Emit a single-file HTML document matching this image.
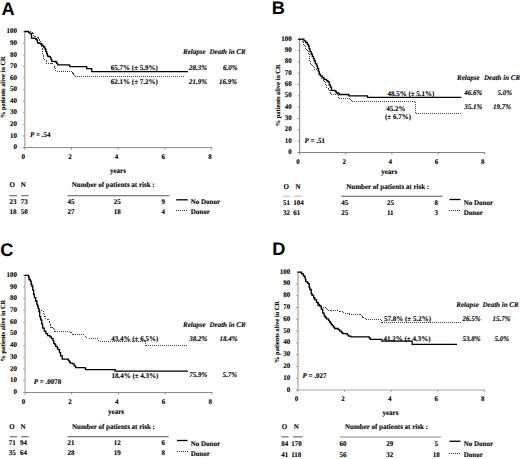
<!DOCTYPE html>
<html><head><meta charset="utf-8"><style>
html,body{margin:0;padding:0;background:#fff;width:520px;height:459px;overflow:hidden;}
svg{display:block;}
</style></head><body>
<svg width="520" height="459" viewBox="0 0 520 459">
<rect width="520" height="459" fill="#fff"/>
<g font-family="Liberation Serif" font-weight="bold" fill="#000" text-rendering="geometricPrecision" stroke="#000" stroke-width="0.1">
<text transform="translate(1.50,14.80) scale(1.0,1)" font-size="18.2" font-family="Liberation Sans" stroke-width="0">A</text>
<line x1="24.80" y1="31.30" x2="24.80" y2="147.60" stroke="#a0a0a0" stroke-width="1.2"/>
<line x1="22.80" y1="147.60" x2="212.10" y2="147.60" stroke="#888" stroke-width="1"/>
<line x1="22.80" y1="147.60" x2="24.80" y2="147.60" stroke="#a0a0a0" stroke-width="1"/>
<text transform="translate(17.00,149.20) scale(0.96,1)" text-anchor="end" font-size="7.3">0</text>
<line x1="22.80" y1="136.02" x2="24.80" y2="136.02" stroke="#a0a0a0" stroke-width="1"/>
<text transform="translate(17.00,137.62) scale(0.96,1)" text-anchor="end" font-size="7.3">10</text>
<line x1="22.80" y1="124.44" x2="24.80" y2="124.44" stroke="#a0a0a0" stroke-width="1"/>
<text transform="translate(17.00,126.04) scale(0.96,1)" text-anchor="end" font-size="7.3">20</text>
<line x1="22.80" y1="112.86" x2="24.80" y2="112.86" stroke="#a0a0a0" stroke-width="1"/>
<text transform="translate(17.00,114.46) scale(0.96,1)" text-anchor="end" font-size="7.3">30</text>
<line x1="22.80" y1="101.28" x2="24.80" y2="101.28" stroke="#a0a0a0" stroke-width="1"/>
<text transform="translate(17.00,102.88) scale(0.96,1)" text-anchor="end" font-size="7.3">40</text>
<line x1="22.80" y1="89.70" x2="24.80" y2="89.70" stroke="#a0a0a0" stroke-width="1"/>
<text transform="translate(17.00,91.30) scale(0.96,1)" text-anchor="end" font-size="7.3">50</text>
<line x1="22.80" y1="78.12" x2="24.80" y2="78.12" stroke="#a0a0a0" stroke-width="1"/>
<text transform="translate(17.00,79.72) scale(0.96,1)" text-anchor="end" font-size="7.3">60</text>
<line x1="22.80" y1="66.54" x2="24.80" y2="66.54" stroke="#a0a0a0" stroke-width="1"/>
<text transform="translate(17.00,68.14) scale(0.96,1)" text-anchor="end" font-size="7.3">70</text>
<line x1="22.80" y1="54.96" x2="24.80" y2="54.96" stroke="#a0a0a0" stroke-width="1"/>
<text transform="translate(17.00,56.56) scale(0.96,1)" text-anchor="end" font-size="7.3">80</text>
<line x1="22.80" y1="43.38" x2="24.80" y2="43.38" stroke="#a0a0a0" stroke-width="1"/>
<text transform="translate(17.00,44.98) scale(0.96,1)" text-anchor="end" font-size="7.3">90</text>
<line x1="22.80" y1="31.80" x2="24.80" y2="31.80" stroke="#a0a0a0" stroke-width="1"/>
<text transform="translate(17.00,33.40) scale(0.96,1)" text-anchor="end" font-size="7.3">100</text>
<line x1="24.80" y1="147.60" x2="24.80" y2="149.60" stroke="#888" stroke-width="1"/>
<text transform="translate(23.20,159.30) scale(0.96,1)" text-anchor="middle" font-size="7.3">0</text>
<line x1="71.50" y1="147.60" x2="71.50" y2="149.60" stroke="#888" stroke-width="1"/>
<text transform="translate(69.90,159.30) scale(0.96,1)" text-anchor="middle" font-size="7.3">2</text>
<line x1="118.20" y1="147.60" x2="118.20" y2="149.60" stroke="#888" stroke-width="1"/>
<text transform="translate(116.60,159.30) scale(0.96,1)" text-anchor="middle" font-size="7.3">4</text>
<line x1="164.90" y1="147.60" x2="164.90" y2="149.60" stroke="#888" stroke-width="1"/>
<text transform="translate(163.30,159.30) scale(0.96,1)" text-anchor="middle" font-size="7.3">6</text>
<line x1="211.60" y1="147.60" x2="211.60" y2="149.60" stroke="#888" stroke-width="1"/>
<text transform="translate(210.00,159.30) scale(0.96,1)" text-anchor="middle" font-size="7.3">8</text>
<text x="0" y="0" text-anchor="middle" font-size="6.4" transform="translate(4.70,87.20) rotate(-90)">% patients alive in CR</text>
<text transform="translate(110.00,173.30) scale(0.96,1)" font-size="7.3">years</text>
<text transform="translate(9.50,187.30) scale(0.96,1)" font-size="7.3">O</text>
<text transform="translate(20.75,187.30) scale(0.96,1)" font-size="7.3">N</text>
<text transform="translate(71.75,187.30) scale(0.96,1)" font-size="7.3">Number of patients at risk :</text>
<line x1="9.50" y1="195.75" x2="17.00" y2="195.75" stroke="#555" stroke-width="1"/>
<line x1="21.25" y1="195.75" x2="28.75" y2="195.75" stroke="#555" stroke-width="1"/>
<line x1="67.50" y1="195.75" x2="169.25" y2="195.75" stroke="#555" stroke-width="1"/>
<text transform="translate(9.50,204.30) scale(0.96,1)" font-size="7.3">23</text>
<text transform="translate(20.75,204.30) scale(0.96,1)" font-size="7.3">73</text>
<text transform="translate(67.50,204.30) scale(0.96,1)" font-size="7.3">45</text>
<text transform="translate(113.75,204.30) scale(0.96,1)" font-size="7.3">25</text>
<text transform="translate(163.25,204.30) scale(0.96,1)" text-anchor="middle" font-size="7.3">9</text>
<text transform="translate(9.50,214.30) scale(0.96,1)" font-size="7.3">18</text>
<text transform="translate(20.75,214.30) scale(0.96,1)" font-size="7.3">50</text>
<text transform="translate(67.50,214.30) scale(0.96,1)" font-size="7.3">27</text>
<text transform="translate(113.75,214.30) scale(0.96,1)" font-size="7.3">18</text>
<text transform="translate(163.25,214.30) scale(0.96,1)" text-anchor="middle" font-size="7.3">4</text>
<line x1="176.25" y1="199.80" x2="187.75" y2="199.80" stroke="#000" stroke-width="1.3"/>
<text transform="translate(190.75,204.30) scale(0.96,1)" font-size="7.3">No Donor</text>
<line x1="176.00" y1="210.00" x2="188.00" y2="210.00" stroke="#333" stroke-width="1" stroke-dasharray="1 1" shape-rendering="crispEdges"/>
<text transform="translate(190.75,214.30) scale(0.96,1)" font-size="7.3">Donor</text>
<text transform="translate(183.00,54.30) scale(0.96,1)" font-style="italic" font-size="7.3">Relapse</text>
<text transform="translate(209.50,54.30) scale(0.96,1)" font-style="italic" font-size="7.3">Death in CR</text>
<text transform="translate(189.00,69.60) scale(0.96,1)" font-style="italic" font-size="7.3">28.3%</text>
<text transform="translate(223.00,69.60) scale(0.96,1)" font-style="italic" font-size="7.3">6.0%</text>
<text transform="translate(189.00,84.10) scale(0.96,1)" font-style="italic" font-size="7.3">21.9%</text>
<text transform="translate(219.00,84.10) scale(0.96,1)" font-style="italic" font-size="7.3">16.9%</text>
<text transform="translate(110.80,69.80) scale(0.96,1)" font-size="7.3">65.7% (± 5.9%)</text>
<text transform="translate(110.80,84.20) scale(0.96,1)" font-size="7.3">62.1% (± 7.2%)</text>
<text transform="translate(30.00,137.10) scale(0.96,1)" font-size="7.3"><tspan font-style="italic">P</tspan> = .54</text>
<path d="M24.30,31.50H30.70V31.50H32.10V32.00H32.70V33.20H33.00V35.50H33.50V36.10H35.80V36.70H37.00V37.80H38.20V39.00H39.00V40.10H39.90V41.80H40.50V44.20H41.00V45.90H41.90V47.60H42.20V49.90H42.50V52.40H42.50V54.80H43.00V56.70H43.70V58.40H44.90V60.10H46.60V61.50H46.80V63.40H51.10V63.70H52.60V64.40H53.30V65.30H54.20V66.80H54.70V68.20H55.90V70.10H56.40V71.10H70.90V71.10H71.70V72.10H72.80V73.20H73.60V74.40H74.40V76.60H185.20" fill="none" stroke="#444" stroke-width="1" stroke-dasharray="1 1" shape-rendering="crispEdges"/>
<path d="M24.30,31.50H27.80V31.50H28.60V32.30H29.50V33.20H30.70V33.50H31.20V34.90H31.50V38.10H33.50V38.40H35.60V39.00H36.40V39.80H37.30V41.30H37.60V43.00H39.30V43.30H41.30V43.90H41.90V45.30H43.10V46.50H44.20V47.30H44.90V49.00H45.80V51.40H46.60V53.40H47.30V55.80H48.20V56.50H49.70V56.70H50.40V57.90H51.10V59.60H51.80V61.30H54.50V61.50H55.90V62.00H56.60V63.40H57.60V64.90H68.60V65.20H69.80V66.70H85.50V66.70H86.70V68.60H90.90V68.60H91.70V71.60H188.00" fill="none" stroke="#000" stroke-width="1.3"/>
<text transform="translate(271.80,14.30) scale(1.0,1)" font-size="18.2" font-family="Liberation Sans" stroke-width="0">B</text>
<line x1="299.60" y1="38.70" x2="299.60" y2="152.50" stroke="#909090" stroke-width="1.2"/>
<line x1="297.60" y1="152.50" x2="484.82" y2="152.50" stroke="#808080" stroke-width="1"/>
<line x1="297.60" y1="152.50" x2="299.60" y2="152.50" stroke="#909090" stroke-width="1"/>
<text transform="translate(291.80,154.10) scale(0.96,1)" text-anchor="end" font-size="7.3">0</text>
<line x1="297.60" y1="141.17" x2="299.60" y2="141.17" stroke="#909090" stroke-width="1"/>
<text transform="translate(291.80,142.77) scale(0.96,1)" text-anchor="end" font-size="7.3">10</text>
<line x1="297.60" y1="129.84" x2="299.60" y2="129.84" stroke="#909090" stroke-width="1"/>
<text transform="translate(291.80,131.44) scale(0.96,1)" text-anchor="end" font-size="7.3">20</text>
<line x1="297.60" y1="118.51" x2="299.60" y2="118.51" stroke="#909090" stroke-width="1"/>
<text transform="translate(291.80,120.11) scale(0.96,1)" text-anchor="end" font-size="7.3">30</text>
<line x1="297.60" y1="107.18" x2="299.60" y2="107.18" stroke="#909090" stroke-width="1"/>
<text transform="translate(291.80,108.78) scale(0.96,1)" text-anchor="end" font-size="7.3">40</text>
<line x1="297.60" y1="95.85" x2="299.60" y2="95.85" stroke="#909090" stroke-width="1"/>
<text transform="translate(291.80,97.45) scale(0.96,1)" text-anchor="end" font-size="7.3">50</text>
<line x1="297.60" y1="84.52" x2="299.60" y2="84.52" stroke="#909090" stroke-width="1"/>
<text transform="translate(291.80,86.12) scale(0.96,1)" text-anchor="end" font-size="7.3">60</text>
<line x1="297.60" y1="73.19" x2="299.60" y2="73.19" stroke="#909090" stroke-width="1"/>
<text transform="translate(291.80,74.79) scale(0.96,1)" text-anchor="end" font-size="7.3">70</text>
<line x1="297.60" y1="61.86" x2="299.60" y2="61.86" stroke="#909090" stroke-width="1"/>
<text transform="translate(291.80,63.46) scale(0.96,1)" text-anchor="end" font-size="7.3">80</text>
<line x1="297.60" y1="50.53" x2="299.60" y2="50.53" stroke="#909090" stroke-width="1"/>
<text transform="translate(291.80,52.13) scale(0.96,1)" text-anchor="end" font-size="7.3">90</text>
<line x1="297.60" y1="39.20" x2="299.60" y2="39.20" stroke="#909090" stroke-width="1"/>
<text transform="translate(291.80,40.80) scale(0.96,1)" text-anchor="end" font-size="7.3">100</text>
<line x1="299.60" y1="152.50" x2="299.60" y2="154.50" stroke="#808080" stroke-width="1"/>
<text transform="translate(298.00,164.30) scale(0.96,1)" text-anchor="middle" font-size="7.3">0</text>
<line x1="345.78" y1="152.50" x2="345.78" y2="154.50" stroke="#808080" stroke-width="1"/>
<text transform="translate(344.18,164.30) scale(0.96,1)" text-anchor="middle" font-size="7.3">2</text>
<line x1="391.96" y1="152.50" x2="391.96" y2="154.50" stroke="#808080" stroke-width="1"/>
<text transform="translate(390.36,164.30) scale(0.96,1)" text-anchor="middle" font-size="7.3">4</text>
<line x1="438.14" y1="152.50" x2="438.14" y2="154.50" stroke="#808080" stroke-width="1"/>
<text transform="translate(436.54,164.30) scale(0.96,1)" text-anchor="middle" font-size="7.3">6</text>
<line x1="484.32" y1="152.50" x2="484.32" y2="154.50" stroke="#808080" stroke-width="1"/>
<text transform="translate(482.72,164.30) scale(0.96,1)" text-anchor="middle" font-size="7.3">8</text>
<text x="0" y="0" text-anchor="middle" font-size="6.4" transform="translate(280.00,95.30) rotate(-90)">% patients alive in CR</text>
<text transform="translate(381.25,173.75) scale(0.96,1)" font-size="7.3">years</text>
<text transform="translate(286.25,188.50) scale(0.96,1)" text-anchor="middle" font-size="7.3">O</text>
<text transform="translate(298.00,188.50) scale(0.96,1)" text-anchor="middle" font-size="7.3">N</text>
<text transform="translate(346.25,188.50) scale(0.96,1)" font-size="7.3">Number of patients at risk :</text>
<line x1="283.00" y1="196.25" x2="289.50" y2="196.25" stroke="#aaa" stroke-width="0.8"/>
<line x1="294.00" y1="196.25" x2="302.00" y2="196.25" stroke="#aaa" stroke-width="0.8"/>
<line x1="341.25" y1="196.25" x2="442.50" y2="196.25" stroke="#555" stroke-width="1"/>
<text transform="translate(283.00,204.80) scale(0.96,1)" font-size="7.3">51</text>
<text transform="translate(293.25,204.80) scale(0.96,1)" font-size="7.3">104</text>
<text transform="translate(341.25,204.80) scale(0.96,1)" font-size="7.3">45</text>
<text transform="translate(387.00,204.80) scale(0.96,1)" font-size="7.3">25</text>
<text transform="translate(436.25,204.80) scale(0.96,1)" text-anchor="middle" font-size="7.3">8</text>
<text transform="translate(283.00,214.80) scale(0.96,1)" font-size="7.3">32</text>
<text transform="translate(293.25,214.80) scale(0.96,1)" font-size="7.3">61</text>
<text transform="translate(341.25,214.80) scale(0.96,1)" font-size="7.3">25</text>
<text transform="translate(387.00,214.80) scale(0.96,1)" font-size="7.3">11</text>
<text transform="translate(436.25,214.80) scale(0.96,1)" text-anchor="middle" font-size="7.3">3</text>
<line x1="449.50" y1="199.50" x2="460.50" y2="199.50" stroke="#000" stroke-width="1.3"/>
<text transform="translate(463.75,204.80) scale(0.96,1)" font-size="7.3">No Donor</text>
<line x1="449.00" y1="210.75" x2="461.00" y2="210.75" stroke="#333" stroke-width="1" stroke-dasharray="1 1" shape-rendering="crispEdges"/>
<text transform="translate(463.75,214.80) scale(0.96,1)" font-size="7.3">Donor</text>
<text transform="translate(457.00,79.80) scale(0.96,1)" font-style="italic" font-size="7.3">Relapse</text>
<text transform="translate(484.00,79.80) scale(0.96,1)" font-style="italic" font-size="7.3">Death in CR</text>
<text transform="translate(464.25,94.80) scale(0.96,1)" font-style="italic" font-size="7.3">46.6%</text>
<text transform="translate(497.50,94.80) scale(0.96,1)" font-style="italic" font-size="7.3">5.0%</text>
<text transform="translate(464.25,109.00) scale(0.96,1)" font-style="italic" font-size="7.3">35.1%</text>
<text transform="translate(493.00,109.00) scale(0.96,1)" font-style="italic" font-size="7.3">19.7%</text>
<text transform="translate(387.40,95.60) scale(0.96,1)" font-size="7.3">48.5% (± 5.1%)</text>
<text transform="translate(386.25,111.00) scale(0.96,1)" font-size="7.3">45.2%</text>
<text transform="translate(385.00,118.50) scale(0.96,1)" font-size="7.3">(± 6.7%)</text>
<text transform="translate(304.50,143.30) scale(0.96,1)" font-size="7.3"><tspan font-style="italic">P</tspan> = .51</text>
<path d="M298.40,39.20H302.50V39.20H302.80V41.90H303.10V44.20H304.20V46.50H305.70V48.80H306.80V50.60H308.30V52.30H308.80V54.60H309.10V56.90H309.40V59.20H309.60V61.50H310.20V64.30H312.50V65.50H313.70V67.80H314.80V69.80H316.80V70.40H318.30V72.40H319.10V74.70H320.60V77.00H321.70V78.80H323.50V80.50H324.60V82.20H325.40V85.70H326.90V88.00H328.50V90.30H330.00V92.60H330.40V94.50H337.70V94.50H338.50V98.40H349.20V98.40H350.40V100.30H351.50V101.30H415.50V101.30H415.50V113.80H461.25" fill="none" stroke="#444" stroke-width="1" stroke-dasharray="1 1" shape-rendering="crispEdges"/>
<path d="M298.40,39.20H302.50V39.20H303.90V40.80H305.70V42.50H307.40V44.50H308.50V46.00H309.10V48.80H310.00V51.70H311.10V54.00H312.30V56.40H313.40V58.70H314.30V61.00H315.40V63.80H316.80V66.10H317.40V68.40H318.60V71.30H319.10V74.20H320.30V75.90H322.30V77.60H324.00V79.40H326.40V80.50H327.80V81.70H329.20V84.90H330.40V87.20H331.50V90.30H335.00V91.10H336.20V93.00H338.50V93.80H339.60V94.50H346.90V94.50H348.80V95.90H367.30V95.90H367.50V97.40H461.25" fill="none" stroke="#000" stroke-width="1.3"/>
<text transform="translate(0.30,255.50) scale(1.0,1)" font-size="18.2" font-family="Liberation Sans" stroke-width="0">C</text>
<line x1="25.00" y1="274.70" x2="25.00" y2="392.50" stroke="#aaaaaa" stroke-width="1.2"/>
<line x1="23.00" y1="392.50" x2="212.38" y2="392.50" stroke="#8c8c8c" stroke-width="1"/>
<line x1="23.00" y1="392.50" x2="25.00" y2="392.50" stroke="#aaaaaa" stroke-width="1"/>
<text transform="translate(16.90,394.10) scale(0.96,1)" text-anchor="end" font-size="7.3">0</text>
<line x1="23.00" y1="380.77" x2="25.00" y2="380.77" stroke="#aaaaaa" stroke-width="1"/>
<text transform="translate(16.90,382.37) scale(0.96,1)" text-anchor="end" font-size="7.3">10</text>
<line x1="23.00" y1="369.04" x2="25.00" y2="369.04" stroke="#aaaaaa" stroke-width="1"/>
<text transform="translate(16.90,370.64) scale(0.96,1)" text-anchor="end" font-size="7.3">20</text>
<line x1="23.00" y1="357.31" x2="25.00" y2="357.31" stroke="#aaaaaa" stroke-width="1"/>
<text transform="translate(16.90,358.91) scale(0.96,1)" text-anchor="end" font-size="7.3">30</text>
<line x1="23.00" y1="345.58" x2="25.00" y2="345.58" stroke="#aaaaaa" stroke-width="1"/>
<text transform="translate(16.90,347.18) scale(0.96,1)" text-anchor="end" font-size="7.3">40</text>
<line x1="23.00" y1="333.85" x2="25.00" y2="333.85" stroke="#aaaaaa" stroke-width="1"/>
<text transform="translate(16.90,335.45) scale(0.96,1)" text-anchor="end" font-size="7.3">50</text>
<line x1="23.00" y1="322.12" x2="25.00" y2="322.12" stroke="#aaaaaa" stroke-width="1"/>
<text transform="translate(16.90,323.72) scale(0.96,1)" text-anchor="end" font-size="7.3">60</text>
<line x1="23.00" y1="310.39" x2="25.00" y2="310.39" stroke="#aaaaaa" stroke-width="1"/>
<text transform="translate(16.90,311.99) scale(0.96,1)" text-anchor="end" font-size="7.3">70</text>
<line x1="23.00" y1="298.66" x2="25.00" y2="298.66" stroke="#aaaaaa" stroke-width="1"/>
<text transform="translate(16.90,300.26) scale(0.96,1)" text-anchor="end" font-size="7.3">80</text>
<line x1="23.00" y1="286.93" x2="25.00" y2="286.93" stroke="#aaaaaa" stroke-width="1"/>
<text transform="translate(16.90,288.53) scale(0.96,1)" text-anchor="end" font-size="7.3">90</text>
<line x1="23.00" y1="275.20" x2="25.00" y2="275.20" stroke="#aaaaaa" stroke-width="1"/>
<text transform="translate(16.90,276.80) scale(0.96,1)" text-anchor="end" font-size="7.3">100</text>
<line x1="25.00" y1="392.50" x2="25.00" y2="394.50" stroke="#8c8c8c" stroke-width="1"/>
<text transform="translate(23.40,404.40) scale(0.96,1)" text-anchor="middle" font-size="7.3">0</text>
<line x1="71.72" y1="392.50" x2="71.72" y2="394.50" stroke="#8c8c8c" stroke-width="1"/>
<text transform="translate(70.12,404.40) scale(0.96,1)" text-anchor="middle" font-size="7.3">2</text>
<line x1="118.44" y1="392.50" x2="118.44" y2="394.50" stroke="#8c8c8c" stroke-width="1"/>
<text transform="translate(116.84,404.40) scale(0.96,1)" text-anchor="middle" font-size="7.3">4</text>
<line x1="165.16" y1="392.50" x2="165.16" y2="394.50" stroke="#8c8c8c" stroke-width="1"/>
<text transform="translate(163.56,404.40) scale(0.96,1)" text-anchor="middle" font-size="7.3">6</text>
<line x1="211.88" y1="392.50" x2="211.88" y2="394.50" stroke="#8c8c8c" stroke-width="1"/>
<text transform="translate(210.28,404.40) scale(0.96,1)" text-anchor="middle" font-size="7.3">8</text>
<text x="0" y="0" text-anchor="middle" font-size="6.4" transform="translate(5.20,330.70) rotate(-90)">% patients alive in CR</text>
<text transform="translate(108.10,413.80) scale(0.96,1)" font-size="7.3">years</text>
<text transform="translate(9.25,428.50) scale(0.96,1)" font-size="7.3">O</text>
<text transform="translate(20.50,428.50) scale(0.96,1)" font-size="7.3">N</text>
<text transform="translate(72.00,428.50) scale(0.96,1)" font-size="7.3">Number of patients at risk :</text>
<line x1="9.50" y1="436.75" x2="17.00" y2="436.75" stroke="#555" stroke-width="1"/>
<line x1="21.25" y1="436.75" x2="28.75" y2="436.75" stroke="#555" stroke-width="1"/>
<line x1="67.50" y1="436.75" x2="168.75" y2="436.75" stroke="#555" stroke-width="1"/>
<text transform="translate(8.75,445.30) scale(0.96,1)" font-size="7.3">71</text>
<text transform="translate(20.00,445.30) scale(0.96,1)" font-size="7.3">94</text>
<text transform="translate(67.50,445.30) scale(0.96,1)" font-size="7.3">21</text>
<text transform="translate(113.75,445.30) scale(0.96,1)" font-size="7.3">12</text>
<text transform="translate(163.25,445.30) scale(0.96,1)" text-anchor="middle" font-size="7.3">6</text>
<text transform="translate(8.75,455.30) scale(0.96,1)" font-size="7.3">35</text>
<text transform="translate(20.00,455.30) scale(0.96,1)" font-size="7.3">64</text>
<text transform="translate(67.50,455.30) scale(0.96,1)" font-size="7.3">28</text>
<text transform="translate(113.75,455.30) scale(0.96,1)" font-size="7.3">19</text>
<text transform="translate(163.25,455.30) scale(0.96,1)" text-anchor="middle" font-size="7.3">8</text>
<line x1="177.00" y1="440.50" x2="187.50" y2="440.50" stroke="#000" stroke-width="1.3"/>
<text transform="translate(190.75,445.50) scale(0.96,1)" font-size="7.3">No Donor</text>
<line x1="177.00" y1="451.25" x2="188.00" y2="451.25" stroke="#333" stroke-width="1" stroke-dasharray="1 1" shape-rendering="crispEdges"/>
<text transform="translate(190.75,455.50) scale(0.96,1)" font-size="7.3">Donor</text>
<text transform="translate(183.00,326.50) scale(0.96,1)" font-style="italic" font-size="7.3">Relapse</text>
<text transform="translate(209.50,326.50) scale(0.96,1)" font-style="italic" font-size="7.3">Death in CR</text>
<text transform="translate(189.25,341.00) scale(0.96,1)" font-style="italic" font-size="7.3">38.2%</text>
<text transform="translate(219.50,341.00) scale(0.96,1)" font-style="italic" font-size="7.3">18.4%</text>
<text transform="translate(189.25,377.30) scale(0.96,1)" font-style="italic" font-size="7.3">75.9%</text>
<text transform="translate(222.50,377.30) scale(0.96,1)" font-style="italic" font-size="7.3">5.7%</text>
<text transform="translate(111.25,340.50) scale(0.96,1)" font-size="7.3">43.4% (± 6.5%)</text>
<text transform="translate(111.40,377.70) scale(0.96,1)" font-size="7.3">18.4% (± 4.3%)</text>
<text transform="translate(33.75,384.30) scale(0.96,1)" font-size="7.3"><tspan font-style="italic">P</tspan> = .0078</text>
<path d="M24.50,275.30H27.80V275.30H28.60V277.00H29.00V279.50H30.30V281.10H31.10V284.40H31.90V286.10H32.80V290.20H33.60V294.40H34.40V297.70H35.70V301.00H36.90V304.30H37.50V306.00H38.10V308.30H39.30V310.80H41.80V311.20H43.00V314.10H44.30V316.60H45.50V318.60H47.20V319.50H48.40V321.10H49.30V322.80H50.10V324.90H50.90V327.30H52.60V328.60H53.40V329.80H54.90V331.00H68.00V331.00H69.50V332.20H71.10V332.90H72.20V334.80H82.60V334.80H84.20V336.40H86.50V337.50H88.00V338.40H96.70V338.60H97.80V340.00H99.00V341.40H144.50V341.40H145.10V345.80H188.00" fill="none" stroke="#444" stroke-width="1" stroke-dasharray="1 1" shape-rendering="crispEdges"/>
<path d="M24.50,275.30H27.80V275.30H28.60V277.00H29.00V279.50H30.30V281.10H31.10V284.40H31.90V286.10H32.80V290.20H33.60V294.40H34.40V297.70H35.70V301.00H36.90V304.30H37.50V306.00H38.10V308.30H38.90V311.60H39.70V316.60H40.60V319.90H41.80V324.00H42.60V328.20H44.30V331.10H45.90V333.60H47.60V335.60H49.90V336.80H51.50V338.70H53.00V340.60H53.80V343.30H54.90V344.50H55.70V346.40H57.20V347.90H57.90V349.60H59.50V352.70H60.60V355.80H62.20V359.20H67.20V359.20H68.30V360.40H69.25V361.75H70.20V363.10H72.50V363.80H74.10V365.80H75.60V367.70H84.50V367.90H85.60V369.60H114.50V369.60H115.10V371.20H188.00" fill="none" stroke="#000" stroke-width="1.3"/>
<text transform="translate(272.30,255.20) scale(1.0,1)" font-size="18.2" font-family="Liberation Sans" stroke-width="0">D</text>
<line x1="298.00" y1="271.60" x2="298.00" y2="390.00" stroke="#a0a0a0" stroke-width="1.2"/>
<line x1="296.00" y1="390.00" x2="484.82" y2="390.00" stroke="#a8a8a8" stroke-width="1"/>
<line x1="296.00" y1="390.00" x2="298.00" y2="390.00" stroke="#a0a0a0" stroke-width="1"/>
<text transform="translate(290.30,391.60) scale(0.96,1)" text-anchor="end" font-size="7.3">0</text>
<line x1="296.00" y1="378.21" x2="298.00" y2="378.21" stroke="#a0a0a0" stroke-width="1"/>
<text transform="translate(290.30,379.81) scale(0.96,1)" text-anchor="end" font-size="7.3">10</text>
<line x1="296.00" y1="366.42" x2="298.00" y2="366.42" stroke="#a0a0a0" stroke-width="1"/>
<text transform="translate(290.30,368.02) scale(0.96,1)" text-anchor="end" font-size="7.3">20</text>
<line x1="296.00" y1="354.63" x2="298.00" y2="354.63" stroke="#a0a0a0" stroke-width="1"/>
<text transform="translate(290.30,356.23) scale(0.96,1)" text-anchor="end" font-size="7.3">30</text>
<line x1="296.00" y1="342.84" x2="298.00" y2="342.84" stroke="#a0a0a0" stroke-width="1"/>
<text transform="translate(290.30,344.44) scale(0.96,1)" text-anchor="end" font-size="7.3">40</text>
<line x1="296.00" y1="331.05" x2="298.00" y2="331.05" stroke="#a0a0a0" stroke-width="1"/>
<text transform="translate(290.30,332.65) scale(0.96,1)" text-anchor="end" font-size="7.3">50</text>
<line x1="296.00" y1="319.26" x2="298.00" y2="319.26" stroke="#a0a0a0" stroke-width="1"/>
<text transform="translate(290.30,320.86) scale(0.96,1)" text-anchor="end" font-size="7.3">60</text>
<line x1="296.00" y1="307.47" x2="298.00" y2="307.47" stroke="#a0a0a0" stroke-width="1"/>
<text transform="translate(290.30,309.07) scale(0.96,1)" text-anchor="end" font-size="7.3">70</text>
<line x1="296.00" y1="295.68" x2="298.00" y2="295.68" stroke="#a0a0a0" stroke-width="1"/>
<text transform="translate(290.30,297.28) scale(0.96,1)" text-anchor="end" font-size="7.3">80</text>
<line x1="296.00" y1="283.89" x2="298.00" y2="283.89" stroke="#a0a0a0" stroke-width="1"/>
<text transform="translate(290.30,285.49) scale(0.96,1)" text-anchor="end" font-size="7.3">90</text>
<line x1="296.00" y1="272.10" x2="298.00" y2="272.10" stroke="#a0a0a0" stroke-width="1"/>
<text transform="translate(290.30,273.70) scale(0.96,1)" text-anchor="end" font-size="7.3">100</text>
<line x1="298.00" y1="390.00" x2="298.00" y2="392.00" stroke="#a8a8a8" stroke-width="1"/>
<text transform="translate(296.50,400.80) scale(0.96,1)" text-anchor="middle" font-size="7.3">0</text>
<line x1="344.58" y1="390.00" x2="344.58" y2="392.00" stroke="#a8a8a8" stroke-width="1"/>
<text transform="translate(343.08,400.80) scale(0.96,1)" text-anchor="middle" font-size="7.3">2</text>
<line x1="391.16" y1="390.00" x2="391.16" y2="392.00" stroke="#a8a8a8" stroke-width="1"/>
<text transform="translate(389.66,400.80) scale(0.96,1)" text-anchor="middle" font-size="7.3">4</text>
<line x1="437.74" y1="390.00" x2="437.74" y2="392.00" stroke="#a8a8a8" stroke-width="1"/>
<text transform="translate(436.24,400.80) scale(0.96,1)" text-anchor="middle" font-size="7.3">6</text>
<line x1="484.32" y1="390.00" x2="484.32" y2="392.00" stroke="#a8a8a8" stroke-width="1"/>
<text transform="translate(482.82,400.80) scale(0.96,1)" text-anchor="middle" font-size="7.3">8</text>
<text x="0" y="0" text-anchor="middle" font-size="6.4" transform="translate(279.20,332.00) rotate(-90)">% patients alive in CR</text>
<text transform="translate(382.50,414.50) scale(0.96,1)" font-size="7.3">years</text>
<text transform="translate(284.50,429.00) scale(0.96,1)" text-anchor="middle" font-size="7.3">O</text>
<text transform="translate(296.25,429.00) scale(0.96,1)" text-anchor="middle" font-size="7.3">N</text>
<text transform="translate(345.00,429.00) scale(0.96,1)" font-size="7.3">Number of patients at risk :</text>
<line x1="281.50" y1="436.90" x2="288.50" y2="436.90" stroke="#555" stroke-width="1"/>
<line x1="293.00" y1="436.90" x2="302.50" y2="436.90" stroke="#555" stroke-width="1"/>
<line x1="340.00" y1="437.00" x2="441.25" y2="437.00" stroke="#8a8a8a" stroke-width="1"/>
<text transform="translate(281.25,445.80) scale(0.96,1)" font-size="7.3">84</text>
<text transform="translate(291.25,445.80) scale(0.96,1)" font-size="7.3">170</text>
<text transform="translate(339.50,445.80) scale(0.96,1)" font-size="7.3">60</text>
<text transform="translate(386.25,445.80) scale(0.96,1)" font-size="7.3">29</text>
<text transform="translate(436.25,445.80) scale(0.96,1)" text-anchor="middle" font-size="7.3">5</text>
<text transform="translate(281.25,456.50) scale(0.96,1)" font-size="7.3">41</text>
<text transform="translate(291.25,456.50) scale(0.96,1)" font-size="7.3">118</text>
<text transform="translate(339.50,456.50) scale(0.96,1)" font-size="7.3">56</text>
<text transform="translate(386.25,456.50) scale(0.96,1)" font-size="7.3">32</text>
<text transform="translate(436.25,456.50) scale(0.96,1)" text-anchor="middle" font-size="7.3">18</text>
<line x1="449.50" y1="441.25" x2="460.50" y2="441.25" stroke="#000" stroke-width="1.3"/>
<text transform="translate(463.75,446.00) scale(0.96,1)" font-size="7.3">No Donor</text>
<line x1="449.00" y1="453.25" x2="461.00" y2="453.25" stroke="#333" stroke-width="1" stroke-dasharray="1 1" shape-rendering="crispEdges"/>
<text transform="translate(463.75,456.80) scale(0.96,1)" font-size="7.3">Donor</text>
<text transform="translate(456.25,306.80) scale(0.96,1)" font-style="italic" font-size="7.3">Relapse</text>
<text transform="translate(482.50,306.80) scale(0.96,1)" font-style="italic" font-size="7.3">Death in CR</text>
<text transform="translate(462.50,320.50) scale(0.96,1)" font-style="italic" font-size="7.3">26.5%</text>
<text transform="translate(492.50,320.50) scale(0.96,1)" font-style="italic" font-size="7.3">15.7%</text>
<text transform="translate(462.50,341.00) scale(0.96,1)" font-style="italic" font-size="7.3">53.8%</text>
<text transform="translate(494.50,341.00) scale(0.96,1)" font-style="italic" font-size="7.3">5.0%</text>
<text transform="translate(384.00,320.90) scale(0.96,1)" font-size="7.3">57.8% (± 5.2%)</text>
<text transform="translate(383.50,340.90) scale(0.96,1)" font-size="7.3">41.2% (± 4.3%)</text>
<text transform="translate(302.50,378.30) scale(0.96,1)" font-size="7.3"><tspan font-style="italic">P</tspan> = .027</text>
<path d="M297.90,272.10H300.00V272.10H301.60V273.80H303.30V275.90H304.50V277.10H305.40V279.60H305.80V281.70H307.40V282.90H308.30V283.70H309.10V287.10H309.90V289.50H311.20V293.70H312.00V295.30H313.60V297.80H314.90V299.90H316.50V302.40H317.30V305.80H321.20V307.30H325.00V308.10H326.15V309.05H327.30V310.00H330.00V310.80H339.20V311.80H343.80V313.50H349.60V314.70H360.00V315.20H361.45V316.35H362.90V317.50H364.90V318.65H366.90V319.80H380.70V319.80H381.90V322.30H461.25" fill="none" stroke="#444" stroke-width="1" stroke-dasharray="1 1" shape-rendering="crispEdges"/>
<path d="M297.90,272.10H300.00V272.10H301.60V273.80H303.30V275.90H304.50V277.10H305.40V279.60H305.80V281.70H307.40V282.90H308.30V283.70H309.10V287.10H309.90V289.50H311.20V293.70H312.00V295.30H313.60V297.80H314.90V299.90H316.50V302.40H318.20V304.50H319.60V306.20H321.20V309.20H322.70V313.10H324.20V316.20H325.35V317.50H326.50V318.80H328.50V320.40H329.45V321.75H330.40V323.10H331.35V324.35H332.30V325.60H333.45V327.05H334.60V328.50H338.10V329.60H339.80V331.05H341.50V332.50H342.70V333.70H346.10V333.70H347.30V334.95H348.50V336.20H350.80V336.90H368.10V336.90H369.25V338.15H370.40V339.40H380.70V339.40H381.90V341.20H412.00V341.20H412.20V344.30H457.00" fill="none" stroke="#000" stroke-width="1.3"/>
</g></svg>
</body></html>
